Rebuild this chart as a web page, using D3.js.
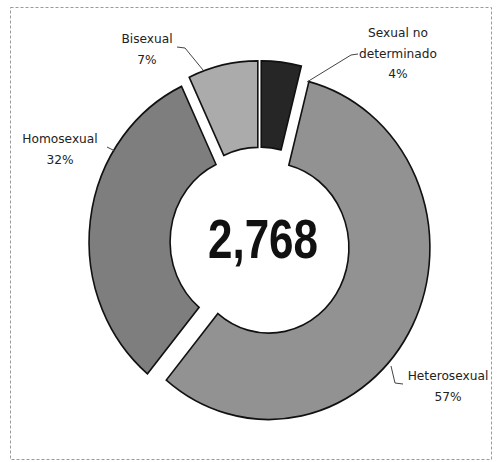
<!DOCTYPE html>
<html>
<head>
<meta charset="utf-8">
<script src="https://cdn.jsdelivr.net/npm/d3@7"></script>
<style>
  html, body { margin: 0; padding: 0; background: #ffffff; }
  svg { display: block; }
</style>
</head>
<body>
<svg id="chart" width="497" height="462"></svg>
<script>
// ---- data ----
const categories = ["Sexual no determinado", "Heterosexual", "Homosexual", "Bisexual"];
const labelLines = [["Sexual no", "determinado"], ["Heterosexual"], ["Homosexual"], ["Bisexual"]];
const percents = [4, 57, 32, 7];
const totalLabel = "2,768";

// ---- style / layout ----
const colors = ["#262626", "#929292", "#7e7e7e", "#ababab"];
const W = 497, H = 462;
const cx = 260, cy = 243;
const Rout = 161, Rin = 80, yStretch = 1.066, explode = 10;
// label layout: text centre x, first baseline y, leader polyline
const labelLayout = [
  { x: 398, y: 37, leader: [[358, 54], [351, 55], [307, 82]] },
  { x: 448, y: 380, leader: [[391, 366], [395, 383], [403, 384]] },
  { x: 60, y: 143, leader: [[107, 147], [115, 151]] },
  { x: 147, y: 43, leader: [[177, 47], [185, 48], [203, 70]] }
];

const svg = d3.select("#chart");

// chart-area dashed border (scan look)
svg.append("rect")
  .attr("x", 10.5).attr("y", 7.5).attr("width", 481).attr("height", 452)
  .attr("fill", "none").attr("stroke", "#9a9a9a").attr("stroke-width", 1)
  .attr("stroke-dasharray", "3,2");

const pie = d3.pie().sort(null).value(d => d);
const arcs = pie(percents);
const arc = d3.arc().innerRadius(Rin).outerRadius(Rout);

const g = svg.append("g").attr("transform", `translate(${cx},${cy}) scale(1,${yStretch})`);

g.selectAll("path.slice")
  .data(arcs)
  .join("path")
  .attr("class", "slice")
  .attr("d", arc)
  .attr("transform", d => {
    const m = (d.startAngle + d.endAngle) / 2;
    return `translate(${explode * Math.sin(m)},${-explode * Math.cos(m)})`;
  })
  .attr("fill", (d, i) => colors[i])
  .attr("stroke", "#111")
  .attr("stroke-width", 1.6)
  .attr("stroke-linejoin", "miter");

// centre total
svg.append("text")
  .attr("x", 263).attr("y", 258)
  .attr("text-anchor", "middle")
  .attr("font-family", "'Liberation Sans Narrow', 'Liberation Sans', Arial, sans-serif")
  .attr("font-weight", "bold")
  .attr("font-size", 56)
  .attr("textLength", 110)
  .attr("lengthAdjust", "spacingAndGlyphs")
  .attr("fill", "#111")
  .text(totalLabel);

// leader lines
const line = d3.line();
svg.selectAll("path.leader")
  .data(labelLayout)
  .join("path")
  .attr("class", "leader")
  .attr("d", d => line(d.leader))
  .attr("fill", "none")
  .attr("stroke", "#444")
  .attr("stroke-width", 1);

// labels
const lab = svg.selectAll("g.label")
  .data(categories)
  .join("g")
  .attr("class", "label");

lab.each(function (c, i) {
  const L = labelLayout[i];
  const lines = labelLines[i].concat([percents[i] + "%"]);
  const t = d3.select(this).append("text")
    .attr("text-anchor", "middle")
    .attr("font-family", "'DejaVu Sans', sans-serif")
    .attr("font-size", 12.2)
    .attr("fill", "#222");
  lines.forEach((s, k) => {
    t.append("tspan").attr("x", L.x).attr("y", L.y + k * 20.5).text(s);
  });
});
</script>
</body>
</html>
